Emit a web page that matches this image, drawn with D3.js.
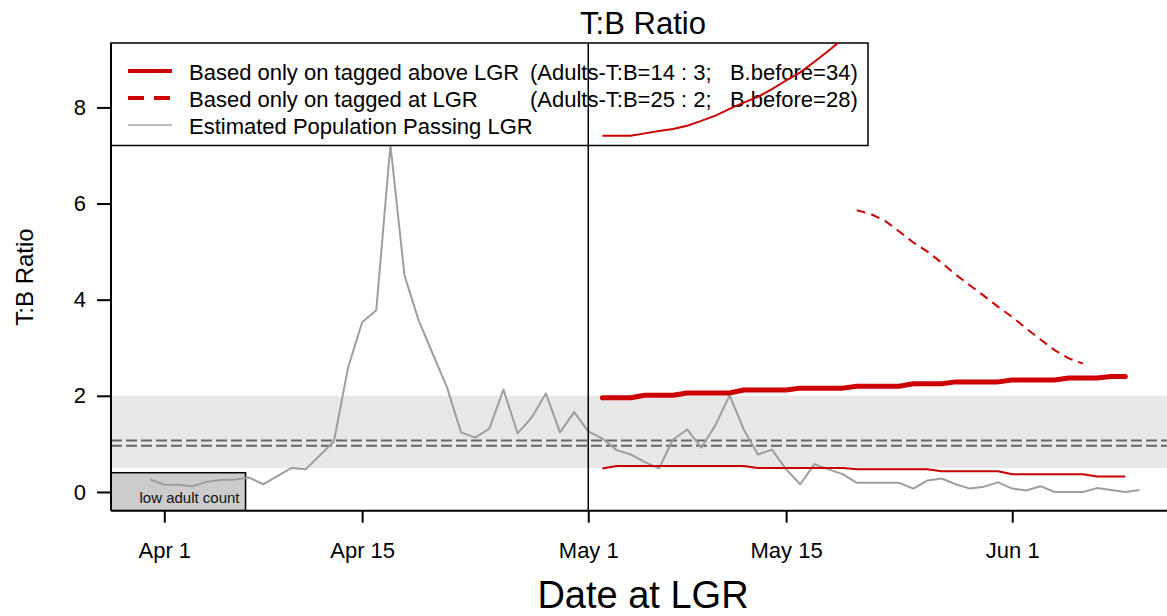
<!DOCTYPE html>
<html>
<head>
<meta charset="utf-8">
<script src="https://cdn.jsdelivr.net/npm/d3@7"></script>
<style>
  html, body { margin: 0; padding: 0; background: #fff; }
  svg { display: block; font-family: "Liberation Sans", Arial, sans-serif; }
</style>
</head>
<body>
<svg id="chart" width="1167" height="616"></svg>
<script>
// ---- data -------------------------------------------------------------
// x values are day numbers counted from Apr 1 (day 0)

// Estimated population T:B ratio passing LGR, one value per day from day -1
const popStart = -1;
const popValues = [
  0.26, 0.15, 0.15, 0.12, 0.21, 0.25, 0.26, 0.30, 0.16, 0.33,
  0.50, 0.47, 0.76, 1.05, 2.58, 3.53, 3.78, 7.22, 4.50, 3.57,
  2.87, 2.18, 1.24, 1.13, 1.32, 2.13, 1.22, 1.55, 2.05, 1.24,
  1.66, 1.26, 1.11, 0.87, 0.78, 0.62, 0.49, 1.09, 1.30, 0.92,
  1.39, 2.01, 1.30, 0.78, 0.88, 0.47, 0.16, 0.58, 0.47, 0.37,
  0.19, 0.19, 0.19, 0.19, 0.07, 0.24, 0.28, 0.16, 0.07, 0.11,
  0.20, 0.07, 0.03, 0.12, 0.00, 0.00, 0.00, 0.08, 0.04, 0.00,
  0.04
];

// Based only on tagged above LGR: estimate with lower / upper bounds, daily from day 31
const aboveStart = 31;
const aboveEst = [
  1.96, 1.96, 1.96, 2.01, 2.01, 2.01, 2.06, 2.06, 2.06, 2.06,
  2.12, 2.12, 2.12, 2.12, 2.16, 2.16, 2.16, 2.16, 2.20, 2.20,
  2.20, 2.20, 2.25, 2.25, 2.25, 2.29, 2.29, 2.29, 2.29, 2.33,
  2.33, 2.33, 2.33, 2.37, 2.37, 2.37, 2.40, 2.40
];
const aboveLower = [
  0.49, 0.54, 0.54, 0.54, 0.54, 0.54, 0.54, 0.54, 0.54, 0.54,
  0.54, 0.50, 0.50, 0.50, 0.50, 0.50, 0.50, 0.50, 0.47, 0.47,
  0.47, 0.47, 0.47, 0.47, 0.43, 0.43, 0.43, 0.43, 0.43, 0.37,
  0.37, 0.37, 0.37, 0.37, 0.37, 0.32, 0.32, 0.32
];
const aboveUpper = [
  7.41, 7.41, 7.41, 7.46, 7.51, 7.55, 7.62, 7.72, 7.83, 7.97,
  8.10, 8.22, 8.38, 8.56, 8.73, 8.95, 9.18, 9.42, 9.68, 9.95,
  10.2
];

// Based only on tagged at LGR: upper bound, daily from day 49
const atStart = 49;
const atUpper = [
  5.86, 5.78, 5.64, 5.42, 5.19, 5.00, 4.77, 4.52, 4.30, 4.08,
  3.85, 3.64, 3.40, 3.17, 2.95, 2.78, 2.67
];

// Reference band, lines and markers
const bandRange = [0.5, 2.0];
const refLines = [0.96, 1.07];
const lowCount = { end: 5.75, top: 0.40 };
const markerDay = 30;

// Axes
const xTicks = [0, 14, 30, 44, 60];
const xTickLabels = ["Apr 1", "Apr 15", "May 1", "May 15", "Jun 1"];
const yTicks = [0, 2, 4, 6, 8];

const legendLabels = [
  "Based only on tagged above LGR",
  "Based only on tagged at LGR",
  "Estimated Population Passing LGR"
];
const legendNotes = [
  "(Adults-T:B=14 : 3;   B.before=34)",
  "(Adults-T:B=25 : 2;   B.before=28)",
  ""
];

// ---- helpers -----------------------------------------------------------
const series = (start, vals) => vals.map((v, i) => ({ day: start + i, v }));

// ---- layout ------------------------------------------------------------
const svg = d3.select("#chart");
const plot = { left: 111, right: 1167, top: 43, bottom: 510.7 };

const x = d3.scaleLinear().domain([-3.77, 70.95]).range([plot.left, plot.right]);
const y = d3.scaleLinear().domain([-0.39, 9.34]).range([plot.bottom, plot.top]);

svg.append("defs").append("clipPath").attr("id", "plotClip")
  .append("rect")
  .attr("x", plot.left).attr("y", plot.top)
  .attr("width", plot.right - plot.left).attr("height", plot.bottom - plot.top);

const back = svg.append("g").attr("clip-path", "url(#plotClip)");

// grey band
back.append("rect")
  .attr("x", plot.left).attr("width", plot.right - plot.left)
  .attr("y", y(bandRange[1])).attr("height", y(bandRange[0]) - y(bandRange[1]))
  .attr("fill", "#e8e8e8");

// dashed reference lines
back.selectAll("line.ref").data(refLines).join("line")
  .attr("class", "ref")
  .attr("x1", plot.left).attr("x2", plot.right)
  .attr("y1", d => y(d)).attr("y2", d => y(d))
  .attr("stroke", "#666").attr("stroke-width", 2).attr("stroke-dasharray", "11,4");

// low adult count box
back.append("rect")
  .attr("x", plot.left).attr("y", y(lowCount.top))
  .attr("width", x(lowCount.end) - plot.left)
  .attr("height", plot.bottom - y(lowCount.top))
  .attr("fill", "#cccccc").attr("stroke", "#000").attr("stroke-width", 1.5);
back.append("text")
  .attr("x", x(lowCount.end) - 6).attr("y", 503)
  .attr("text-anchor", "end").attr("font-size", 15).attr("fill", "#111")
  .text("low adult count");

const line = d3.line().x(d => x(d.day)).y(d => y(d.v));

// population line
back.append("path").datum(series(popStart, popValues))
  .attr("d", line).attr("fill", "none")
  .attr("stroke", "#9e9e9e").attr("stroke-width", 2).attr("stroke-linejoin", "round");

// legend box (covers the background layer)
const lg = svg.append("g");
lg.append("rect")
  .attr("x", plot.left).attr("y", plot.top)
  .attr("width", 868 - plot.left).attr("height", 145.5 - plot.top)
  .attr("fill", "#fff").attr("stroke", "#000").attr("stroke-width", 1.5);

// legend contents
const legendY = [71, 98, 125];
const legendStyle = [
  { color: "#cc0000", width: 4, dash: null },
  { color: "#cc0000", width: 4, dash: "16,10" },
  { color: "#bbbbbb", width: 2, dash: null }
];
legendLabels.forEach((lab, i) => {
  lg.append("line")
    .attr("x1", 128).attr("x2", 172)
    .attr("y1", legendY[i]).attr("y2", legendY[i])
    .attr("stroke", legendStyle[i].color).attr("stroke-width", legendStyle[i].width)
    .attr("stroke-dasharray", legendStyle[i].dash);
  lg.append("text")
    .attr("x", 189).attr("y", legendY[i] + 8.5)
    .attr("font-size", 22).attr("fill", "#000")
    .text(lab);
  if (legendNotes[i]) {
    lg.append("text")
      .attr("x", 530).attr("y", legendY[i] + 8.5)
      .attr("font-size", 22).attr("fill", "#000")
      .style("white-space", "pre")
      .text(legendNotes[i]);
  }
});

// foreground layer: marker line and red series drawn over the legend
const front = svg.append("g").attr("clip-path", "url(#plotClip)");

front.append("line")
  .attr("x1", x(markerDay)).attr("x2", x(markerDay))
  .attr("y1", plot.top).attr("y2", plot.bottom)
  .attr("stroke", "#000").attr("stroke-width", 1.5);

front.append("path").datum(series(aboveStart, aboveLower))
  .attr("d", line).attr("fill", "none").attr("stroke", "#cc0000").attr("stroke-width", 2);
front.append("path").datum(series(aboveStart, aboveUpper))
  .attr("d", line).attr("fill", "none").attr("stroke", "#cc0000").attr("stroke-width", 2);
front.append("path").datum(series(atStart, atUpper))
  .attr("d", line).attr("fill", "none").attr("stroke", "#cc0000").attr("stroke-width", 2)
  .attr("stroke-dasharray", "9,6");
front.append("path").datum(series(aboveStart, aboveEst))
  .attr("d", line).attr("fill", "none").attr("stroke", "#cc0000").attr("stroke-width", 5)
  .attr("stroke-linecap", "round").attr("stroke-linejoin", "round");

// axes
svg.append("line")
  .attr("x1", plot.left).attr("x2", plot.right)
  .attr("y1", plot.bottom).attr("y2", plot.bottom)
  .attr("stroke", "#000").attr("stroke-width", 2);
svg.append("line")
  .attr("x1", plot.left).attr("x2", plot.left)
  .attr("y1", plot.top).attr("y2", plot.bottom)
  .attr("stroke", "#000").attr("stroke-width", 2);

const xAxis = d3.axisBottom(x)
  .tickValues(xTicks)
  .tickFormat((d, i) => xTickLabels[i])
  .tickSize(12).tickPadding(20);
const xg = svg.append("g").attr("transform", `translate(0,${plot.bottom})`).call(xAxis);
xg.select(".domain").remove();
xg.selectAll(".tick line").attr("stroke", "#000").attr("stroke-width", 2);
xg.selectAll(".tick text").attr("font-size", 22).attr("fill", "#000")
  .attr("font-family", "Liberation Sans, Arial, sans-serif");

const yAxis = d3.axisLeft(y).tickValues(yTicks).tickSize(14).tickPadding(11);
const yg = svg.append("g").attr("transform", `translate(${plot.left},0)`).call(yAxis);
yg.select(".domain").remove();
yg.selectAll(".tick line").attr("stroke", "#000").attr("stroke-width", 2);
yg.selectAll(".tick text").attr("font-size", 22).attr("fill", "#000")
  .attr("font-family", "Liberation Sans, Arial, sans-serif");

// titles
svg.append("text")
  .attr("x", 643).attr("y", 34).attr("text-anchor", "middle")
  .attr("font-size", 31).attr("fill", "#000").text("T:B Ratio");
svg.append("text")
  .attr("x", 643).attr("y", 608).attr("text-anchor", "middle")
  .attr("font-size", 38).attr("fill", "#000").text("Date at LGR");
svg.append("text")
  .attr("transform", "translate(33,277) rotate(-90)")
  .attr("text-anchor", "middle")
  .attr("font-size", 24).attr("fill", "#000").text("T:B Ratio");
</script>
</body>
</html>
